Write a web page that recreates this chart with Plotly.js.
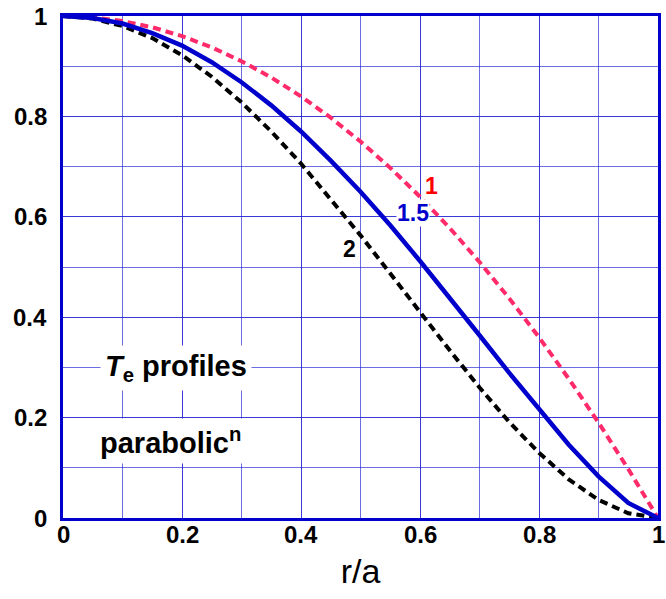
<!DOCTYPE html>
<html>
<head>
<meta charset="utf-8">
<script src="https://cdn.plot.ly/plotly-3.0.1.min.js"></script>
<style>html,body{margin:0;padding:0;background:#fff;}#chart{width:666px;height:599px;}</style>
</head>
<body>
<div id="chart"></div>
<script>
// Normalised radius r/a
const rA = [0, 0.05, 0.1, 0.15, 0.2, 0.25, 0.3, 0.35, 0.4, 0.45, 0.5,
            0.55, 0.6, 0.65, 0.7, 0.75, 0.8, 0.85, 0.9, 0.95, 1];
// Te profiles for exponents n = 1, 1.5, 2
const teN1 = [1, 0.9975, 0.99, 0.9775, 0.96, 0.9375, 0.91, 0.8775, 0.84, 0.7975, 0.75,
              0.6975, 0.64, 0.5775, 0.51, 0.4375, 0.36, 0.2775, 0.19, 0.0975, 0];
const teN15 = [1, 0.996, 0.985, 0.966, 0.941, 0.908, 0.868, 0.822, 0.770, 0.712, 0.650,
               0.583, 0.512, 0.439, 0.364, 0.289, 0.216, 0.146, 0.083, 0.030, 0];
const teN2 = [1, 0.995, 0.980, 0.956, 0.922, 0.879, 0.828, 0.770, 0.706, 0.636, 0.563,
              0.487, 0.410, 0.334, 0.260, 0.191, 0.130, 0.077, 0.036, 0.0095, 0];
const tickVals = [0, 0.2, 0.4, 0.6, 0.8, 1];
const tickText = ['0', '0.2', '0.4', '0.6', '0.8', '1'];

const font = 'Arial';
const axisBlue = '#0000cc';
const gridBlue = 'rgba(30,30,210,0.65)';

const traces = [
  {x: rA, y: teN1, mode: 'lines', line: {color: '#ff2a6a', width: 4, dash: '8px,5px'}},
  {x: rA, y: teN2, mode: 'lines', line: {color: '#000000', width: 4, dash: '8px,5px'}},
  {x: rA, y: teN15, mode: 'lines', line: {color: '#0000cc', width: 4.5}}
];

const tickFont = {family: font, size: 24, color: '#000', weight: 700};

const axisCommon = {
  range: [0, 1],
  tickvals: tickVals,
  showticklabels: false,
  showline: true, mirror: true, linecolor: axisBlue, linewidth: 3,
  showgrid: true, gridcolor: gridBlue, gridwidth: 1,
  minor: {dtick: 0.1, showgrid: true, gridcolor: gridBlue, gridwidth: 1},
  zeroline: false, ticks: '',
  fixedrange: true
};

// Tick labels placed along each axis at the tick values
const xTickLabels = tickVals.map((v, i) => ({
  x: v, xref: 'x', y: 0, yref: 'paper', yanchor: 'top', yshift: -1,
  text: tickText[i], showarrow: false, font: tickFont
}));
const yTickLabels = tickVals.map((v, i) => ({
  x: 0, xref: 'paper', xanchor: 'right', xshift: -14, y: v, yref: 'y',
  text: tickText[i], showarrow: false, font: tickFont
}));

const layout = {
  width: 666, height: 599,
  margin: {l: 63, r: 8, t: 16, b: 81},
  paper_bgcolor: '#fff', plot_bgcolor: '#fff',
  showlegend: false,
  xaxis: Object.assign({}, axisCommon, {
    title: {text: 'r/a', font: {family: font, size: 34, color: '#000'}, standoff: 40}
  }),
  yaxis: Object.assign({}, axisCommon),
  annotations: xTickLabels.concat(yTickLabels, [
    {x: 0.62, y: 0.662, text: '1', showarrow: false, font: {family: font, size: 23, color: '#ff0000', weight: 700}},
    {x: 0.588, y: 0.608, text: '1.5', showarrow: false, bgcolor: '#fff', borderpad: 0,
     font: {family: font, size: 23, color: '#0000cc', weight: 700}},
    {x: 0.482, y: 0.535, text: '2', showarrow: false, font: {family: font, size: 23, color: '#000', weight: 700}},
    {x: 0.19, y: 0.298, text: '<i>T</i><sub>e</sub> profiles', showarrow: false, bgcolor: '#fff', borderpad: 4,
     font: {family: font, size: 29, color: '#000', weight: 700}},
    {x: 0.18, y: 0.153, text: 'parabolic<sup>n</sup>', showarrow: false, bgcolor: '#fff', borderpad: 4,
     font: {family: font, size: 29, color: '#000', weight: 700}}
  ])
};

Plotly.newPlot('chart', traces, layout, {staticPlot: true, displayModeBar: false});
</script>
</body>
</html>
